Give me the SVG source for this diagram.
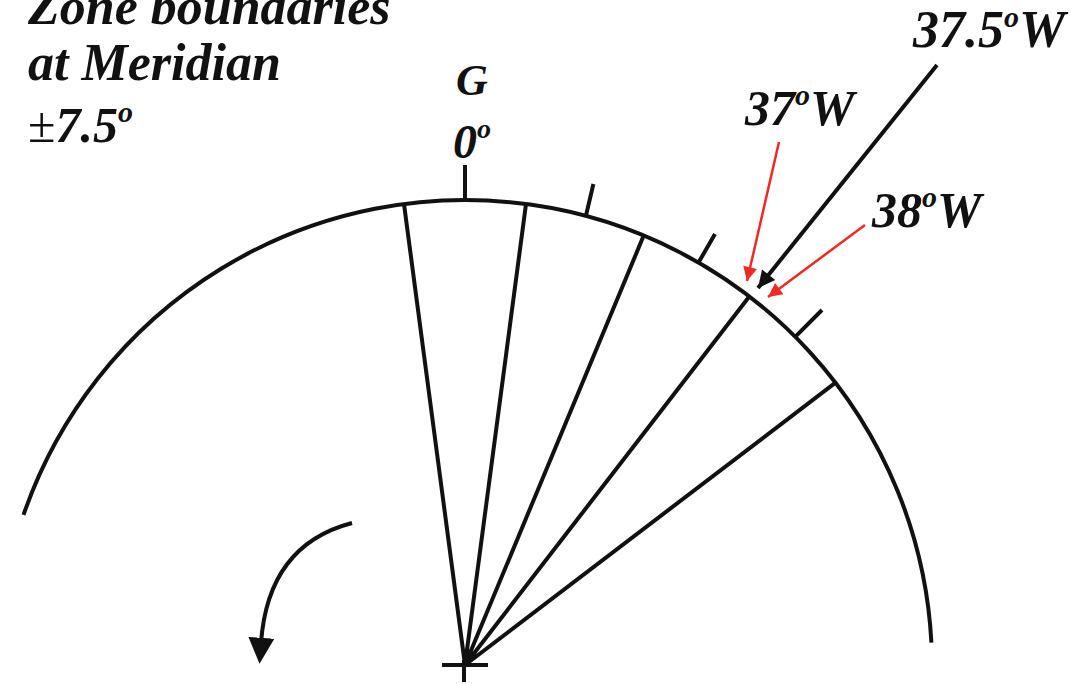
<svg xmlns="http://www.w3.org/2000/svg" width="1077" height="684" viewBox="0 0 1077 684">
<style>
.t{font-family:"Liberation Serif","Times New Roman",serif;font-weight:bold;font-style:italic;fill:#111}
.k{stroke:#111;fill:none;stroke-width:4;stroke-linecap:butt}
.r{stroke:#ee2a24;fill:none;stroke-width:2.5}
</style>
<defs>
<marker id="ab" viewBox="0 0 10 10" refX="10" refY="5" markerUnits="userSpaceOnUse" markerWidth="24" markerHeight="17" orient="auto"><path d="M0,0L10,5L0,10z" fill="#111"/></marker>
<marker id="ar" viewBox="0 0 10 10" refX="10" refY="5" markerUnits="userSpaceOnUse" markerWidth="22" markerHeight="14" orient="auto"><path d="M0,0L10,5L0,10z" fill="#ee2a24"/></marker>
<marker id="ak" viewBox="0 0 10 10" refX="2" refY="5" markerUnits="userSpaceOnUse" markerWidth="26" markerHeight="28" orient="auto"><path d="M0,0L10,5L0,10z" fill="#111"/></marker>
</defs>
<rect width="1077" height="684" fill="#fff"/>
<g id="title">
<text class="t" x="28" y="24" font-size="52">Zone boundaries</text>
<text class="t" x="28" y="80" font-size="52">at Meridian</text>
<text class="t" x="28" y="142" font-size="50"><tspan font-style="normal" font-weight="normal">±</tspan>7.5<tspan font-size="30" dy="-20">o</tspan></text>
</g>
<g id="globe">
<path class="k" d="M23.5,514.9 A467,467 0 0 1 931.4,642.6" stroke-width="4.5"/>
<path class="k" d="M465,665 L404,204 M465,665 L526,204 M465,665 L643.7,235.6 M465,665 L749.3,296.5 M465,665 L835.5,382.7"/>
<path class="k" d="M465,200 L465,165 M585.9,215.9 L593.4,184 M698.5,262.6 L715,234 M795.2,336.8 L822,310"/>
<path class="k" d="M442,665 L488,665 M464,660 L464,682"/>
</g>
<g id="labels">
<text class="t" x="456" y="95" font-size="44">G</text>
<text class="t" x="453" y="158" font-size="48">0<tspan font-size="28" dy="-20">o</tspan></text>
<text class="t" x="913" y="47" font-size="52">37.5<tspan font-size="30" dy="-20">o</tspan><tspan dy="20">W</tspan></text>
<text class="t" x="745" y="125" font-size="50">37<tspan font-size="30" dy="-20">o</tspan><tspan dy="20">W</tspan></text>
<text class="t" x="872" y="227" font-size="50">38<tspan font-size="30" dy="-20">o</tspan><tspan dy="20">W</tspan></text>
</g>
<g id="connectors">
<line class="k" x1="937" y1="65" x2="758" y2="288" marker-end="url(#ab)"/>
<line class="r" x1="779" y1="142" x2="747" y2="281" marker-end="url(#ar)"/>
<line class="r" x1="865" y1="225" x2="768" y2="297" marker-end="url(#ar)"/>
<path class="k" d="M352,523 Q268,545 261,643" marker-end="url(#ak)"/>
</g>
</svg>
